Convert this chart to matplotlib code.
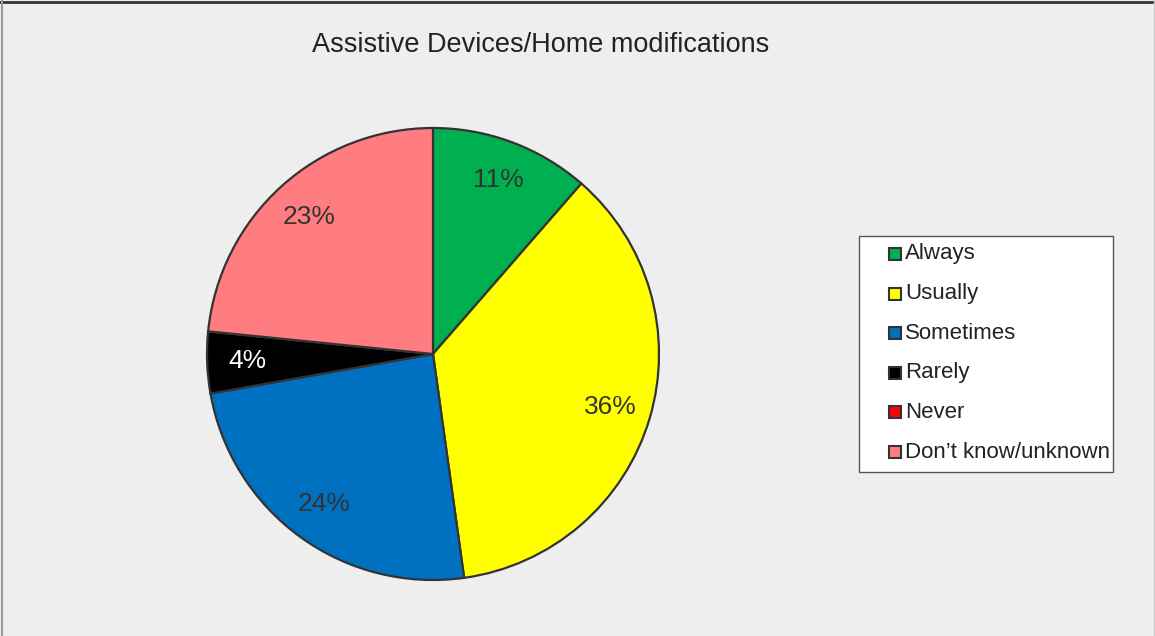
import matplotlib.pyplot as plt
from matplotlib.lines import Line2D
from matplotlib.patches import Rectangle

plt.rcParams['font.family'] = ['Liberation Sans', 'DejaVu Sans']

categories = ['Always', 'Usually', 'Sometimes', 'Rarely', 'Never', 'Don\u2019t know/unknown']
values = [11.4, 36.4, 24.4, 4.4, 0.0, 23.4]
colors = ['#00b050', '#ffff00', '#0070c0', '#000000', '#ff0000', '#ff7c80']

W, H = 1155, 636
fig = plt.figure(figsize=(W / 100, H / 100), dpi=100)
fig.patch.set_facecolor('#eeeeee')

# pie axes (square, centred where the original is)
ax = fig.add_axes([207 / W, (H - 354 - 226) / H, 452 / W, 452 / H])
ax.set_facecolor('none')


def pct(p):
    return '' if p < 0.5 else f'{p:.0f}%'


wedges, texts, autotexts = ax.pie(
    values, colors=colors, startangle=90, counterclock=False,
    autopct=pct, pctdistance=0.82,
    wedgeprops=dict(edgecolor='#333333', linewidth=1.6),
    textprops=dict(fontsize=19, color='#333333'))
autotexts[3].set_color('white')
ax.set_xlim(-1, 1)
ax.set_ylim(-1, 1)
ax.set_aspect('equal')

fig.text(541 / W, 1 - 45 / H, 'Assistive Devices/Home modifications',
         ha='center', va='center', fontsize=19.5, color='#222222')

# legend drawn by hand to get the spacing of the original
fig.add_artist(Rectangle((859 / W, 1 - 472 / H), 254 / W, 236 / H,
                         transform=fig.transFigure, facecolor='white',
                         edgecolor='#555555', lw=1.0))
for i, (name, c) in enumerate(zip(categories, colors)):
    yc = 254 + 39.6 * i
    fig.add_artist(Rectangle((889 / W, 1 - (yc + 6) / H), 12 / W, 12 / H,
                             transform=fig.transFigure, facecolor=c,
                             edgecolor='#333333', lw=1.5))
    fig.text(905 / W, 1 - yc / H, name, ha='left', va='center',
             fontsize=16, color='#222222')

# chart area border
fig.add_artist(Line2D([0, 1], [0.997, 0.997], transform=fig.transFigure, color='#333333', lw=2))
fig.add_artist(Line2D([0.002, 0.002], [0, 1], transform=fig.transFigure, color='#999999', lw=1.5))
fig.add_artist(Line2D([0.999, 0.999], [0, 1], transform=fig.transFigure, color='#cccccc', lw=1))

fig.savefig('out.png', dpi=100, facecolor=fig.get_facecolor())
